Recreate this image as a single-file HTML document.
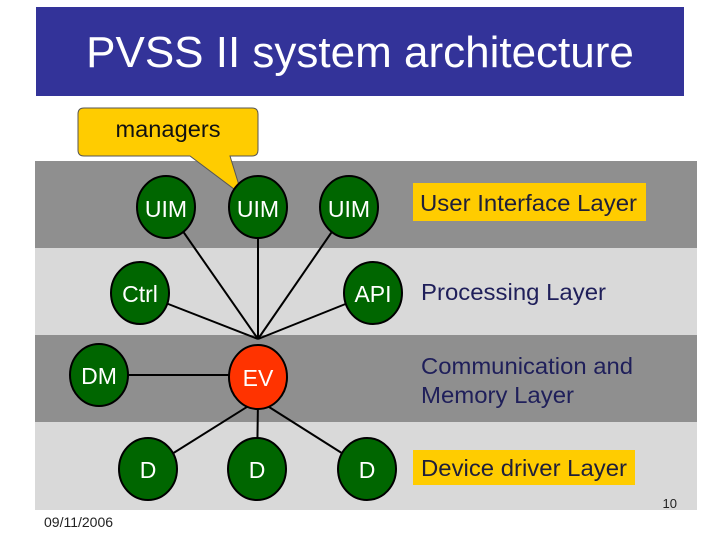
<!DOCTYPE html>
<html><head><meta charset="utf-8"><style>
body{margin:0;width:720px;height:540px;background:#fff;overflow:hidden;font-family:"Liberation Sans",Arial,sans-serif}
</style></head><body>
<svg width="720" height="540" xmlns="http://www.w3.org/2000/svg" font-family="Liberation Sans, Arial, sans-serif">
<rect x="36" y="7" width="648" height="89" fill="#333399"/>
<text x="360" y="67" text-anchor="middle" font-size="44" fill="#fff">PVSS II system architecture</text>
<rect x="35" y="161" width="662" height="87" fill="#8f8f8f"/>
<rect x="35" y="248" width="662" height="87" fill="#d9d9d9"/>
<rect x="35" y="335" width="662" height="87" fill="#8f8f8f"/>
<rect x="35" y="422" width="662" height="88" fill="#d9d9d9"/>
<g stroke="#000" stroke-width="2">
<line x1="258" y1="339" x2="166" y2="207"/><line x1="258" y1="339" x2="258" y2="207"/><line x1="258" y1="339" x2="349" y2="207"/>
<line x1="258" y1="339" x2="140" y2="293"/><line x1="258" y1="339" x2="373" y2="293"/>
<line x1="99" y1="375" x2="258" y2="375"/>
<line x1="258" y1="400" x2="148" y2="469"/><line x1="258" y1="400" x2="257" y2="469"/><line x1="258" y1="400" x2="367" y2="469"/>
</g>
<path d="M88,108 H252 Q258,108 258,114 V150 Q258,156 252,156 H230 L242,195 L190,156 H84 Q78,156 78,150 V114 Q78,108 84,108 Z" fill="#ffcc00" stroke="#555" stroke-width="1"/>
<text x="168" y="137" text-anchor="middle" font-size="23" fill="#111" textLength="105" lengthAdjust="spacingAndGlyphs">managers</text>
<g stroke="#000" stroke-width="2" fill="#006600">
<ellipse cx="166" cy="207" rx="29" ry="31"/><ellipse cx="258" cy="207" rx="29" ry="31"/><ellipse cx="349" cy="207" rx="29" ry="31"/>
<ellipse cx="140" cy="293" rx="29" ry="31"/><ellipse cx="373" cy="293" rx="29" ry="31"/>
<ellipse cx="99" cy="375" rx="29" ry="31"/>
<ellipse cx="258" cy="377" rx="29" ry="32" fill="#ff3300"/>
<ellipse cx="148" cy="469" rx="29" ry="31"/><ellipse cx="257" cy="469" rx="29" ry="31"/><ellipse cx="367" cy="469" rx="29" ry="31"/>
</g>
<g fill="#fff" font-size="23" text-anchor="middle">
<text x="166" y="217">UIM</text><text x="258" y="217">UIM</text><text x="349" y="217">UIM</text>
<text x="140" y="302">Ctrl</text><text x="373" y="302">API</text>
<text x="99" y="384">DM</text><text x="258" y="386">EV</text>
<text x="148" y="478">D</text><text x="257" y="478">D</text><text x="367" y="478">D</text>
</g>
<rect x="413" y="183" width="233" height="38" fill="#ffcc00"/>
<text x="420" y="211" font-size="23" fill="#1f1f3a" textLength="217" lengthAdjust="spacingAndGlyphs">User Interface Layer</text>
<text x="421" y="300" font-size="23" fill="#1f1f5a" textLength="185" lengthAdjust="spacingAndGlyphs">Processing Layer</text>
<text x="421" y="374" font-size="23" fill="#1f1f5a" textLength="212" lengthAdjust="spacingAndGlyphs">Communication and</text>
<text x="421" y="403" font-size="23" fill="#1f1f5a" textLength="153" lengthAdjust="spacingAndGlyphs">Memory Layer</text>
<rect x="413" y="450" width="222" height="35" fill="#ffcc00"/>
<text x="421" y="476" font-size="23" fill="#1f1f3a" textLength="206" lengthAdjust="spacingAndGlyphs">Device driver Layer</text>
<text x="677" y="508" text-anchor="end" font-size="13" fill="#222">10</text>
<text x="44" y="527" font-size="14" fill="#222">09/11/2006</text>
</svg>
</body></html>
